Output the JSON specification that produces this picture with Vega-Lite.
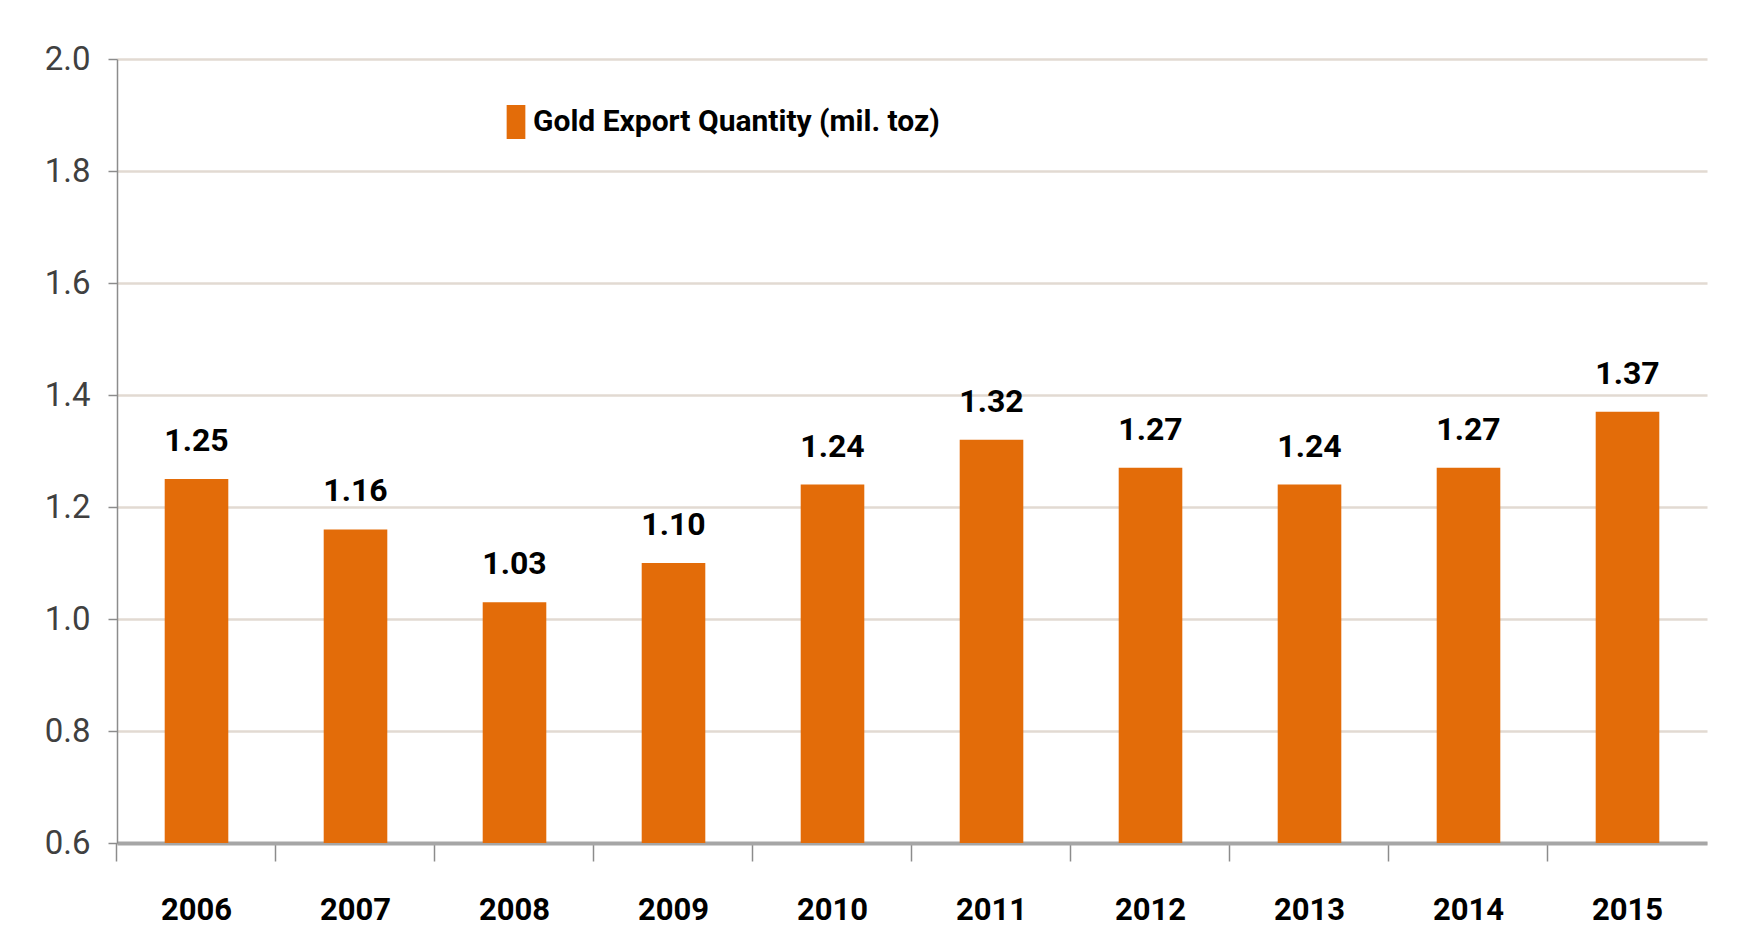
{
  "$schema": "https://vega.github.io/schema/vega-lite/v6.json",
  "width": 1590,
  "height": 784,
  "autosize": {"type": "none"},
  "padding": {"left": 117, "top": 59, "right": 39, "bottom": 107},
  "background": "white",
  "config": {
    "view": {"stroke": null},
    "font": "Roboto"
  },
  "data": {
    "values": [
      {"year": "2006", "value": 1.25, "series": "Gold Export Quantity (mil. toz)"},
      {"year": "2007", "value": 1.16, "series": "Gold Export Quantity (mil. toz)"},
      {"year": "2008", "value": 1.03, "series": "Gold Export Quantity (mil. toz)"},
      {"year": "2009", "value": 1.10, "series": "Gold Export Quantity (mil. toz)"},
      {"year": "2010", "value": 1.24, "series": "Gold Export Quantity (mil. toz)"},
      {"year": "2011", "value": 1.32, "series": "Gold Export Quantity (mil. toz)"},
      {"year": "2012", "value": 1.27, "series": "Gold Export Quantity (mil. toz)"},
      {"year": "2013", "value": 1.24, "series": "Gold Export Quantity (mil. toz)"},
      {"year": "2014", "value": 1.27, "series": "Gold Export Quantity (mil. toz)"},
      {"year": "2015", "value": 1.37, "series": "Gold Export Quantity (mil. toz)"}
    ]
  },
  "encoding": {
    "x": {
      "field": "year",
      "type": "nominal",
      "sort": null,
      "title": null,
      "scale": {"paddingInner": 0.6, "paddingOuter": 0.3},
      "axis": {
        "labelAngle": 0,
        "bandPosition": -0.75,
        "labelBound": false,
        "labelFont": "Roboto",
        "labelFontSize": 31,
        "labelFontWeight": "bold",
        "labelColor": "#000000",
        "labelPadding": 34,
        "labelBaseline": "top",
        "tickSize": 18,
        "tickColor": "#8C8C8C",
        "tickWidth": 1.5,
        "domainColor": "#A6A6A6",
        "domainWidth": 4,
        "grid": false
      }
    },
    "y": {
      "field": "value",
      "type": "quantitative",
      "title": null,
      "scale": {"domain": [0.6, 2.0], "zero": false, "nice": false},
      "axis": {
        "values": [0.6, 0.8, 1.0, 1.2, 1.4, 1.6, 1.8, 2.0],
        "format": ".1f",
        "labelFont": "Roboto",
        "labelFontSize": 33,
        "labelColor": "#404040",
        "labelPadding": 18,
        "tickSize": 9,
        "tickColor": "#8C8C8C",
        "tickWidth": 1.5,
        "domainColor": "#8C8C8C",
        "domainWidth": 1.5,
        "grid": true,
        "gridColor": "#E2DAD2",
        "gridWidth": 2.5
      }
    }
  },
  "layer": [
    {
      "mark": {"type": "bar"},
      "encoding": {
        "y2": {"datum": 0.6},
        "color": {
          "field": "series",
          "type": "nominal",
          "scale": {"range": ["#E36C09"]},
          "legend": {
            "title": null,
            "orient": "none",
            "legendX": 382,
            "legendY": 46,
            "padding": 0,
            "symbolType": "M-0.55,-1H0.55V1H-0.55Z",
            "symbolSize": 1156,
            "symbolStrokeWidth": 0,
            "labelOffset": 0,
            "labelFont": "Roboto",
            "labelFontSize": 30,
            "labelFontWeight": "bold",
            "labelColor": "#000000",
            "labelLimit": 0
          }
        }
      }
    },
    {
      "mark": {
        "type": "text",
        "baseline": "alphabetic",
        "align": "center",
        "dy": -28,
        "font": "Roboto",
        "fontSize": 32,
        "fontWeight": "bold",
        "color": "#000000"
      },
      "encoding": {
        "text": {"field": "value", "type": "quantitative", "format": ".2f"}
      }
    }
  ]
}
